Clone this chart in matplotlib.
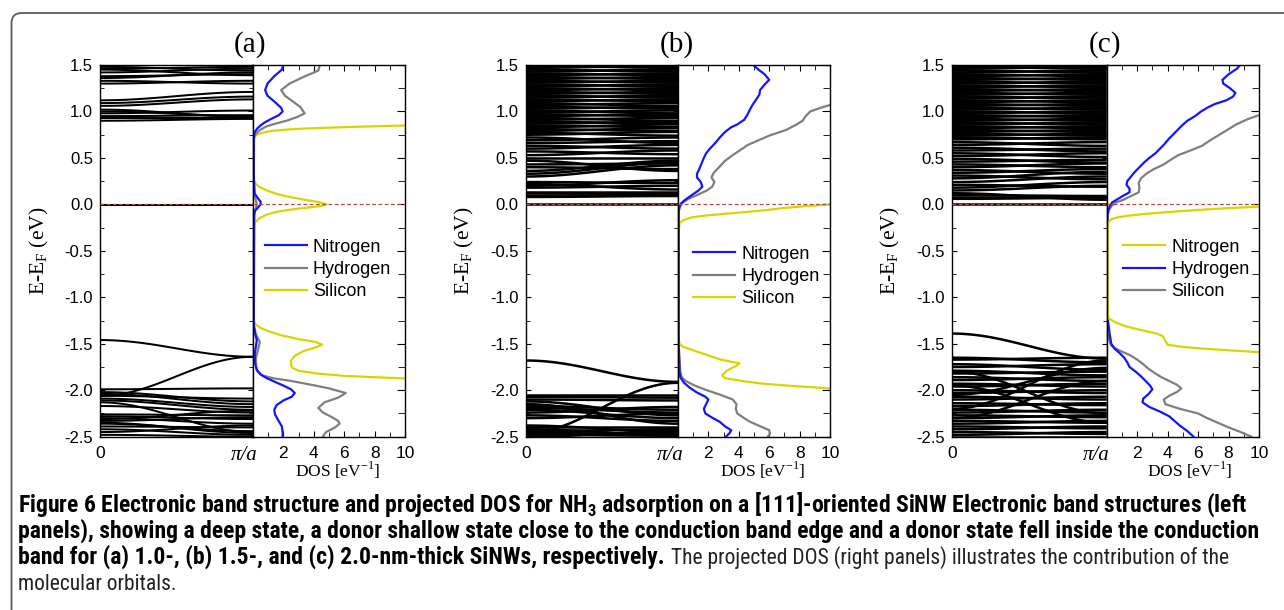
import numpy as np
import matplotlib
matplotlib.use("Agg")
import matplotlib.pyplot as plt
from matplotlib.patches import FancyBboxPatch
from matplotlib.transforms import IdentityTransform
from matplotlib.ticker import MultipleLocator, FixedLocator
from matplotlib.lines import Line2D
from matplotlib import font_manager

# ---------------- data ----------------
# Band structures: energy at Gamma (k=0) and at X (k=pi/a)
A_BAND_G = [-0.005, 1.48, 1.46, 1.42, 1.38, 1.33, 1.30, 1.45, 1.36, 1.12, 1.09, 1.06, 1.02, 0.98, 0.95, 0.93, 0.90, 1.00,
            -1.46, -2.06, -1.99, -2.02, -2.04, -2.06, -2.09, -2.11, -2.13, -2.17, -2.26, -2.28, -2.30, -2.33, -2.36,
            -2.39, -2.42, -2.45, -2.48, -2.31, -2.35]
A_BAND_X = [-0.005, 1.44, 1.48, 1.46, 1.40, 1.30, 1.33, 1.39, 1.42, 1.21, 1.16, 1.13, 0.94, 1.01, 0.96, 0.93, 0.92, 0.95,
            -1.64, -1.64, -1.98, -2.12, -2.15, -2.09, -2.18, -2.21, -2.45, -2.24, -2.27, -2.31, -2.36, -2.29, -2.44,
            -2.40, -2.48, -2.38, -2.50, -2.22, -2.46]

B_BAND_G = [0.00, 0.08, 0.10, 0.12, 0.13, 0.18, 0.22, 0.24, 0.20, 0.30, 0.33, 0.36, 0.40, 0.43, 0.47, 0.50, 0.53, 0.57,
            0.60, 0.63, 0.66, 0.69, 0.72, 0.75, 0.77, 0.79, 0.81, 0.83, 0.85, 0.87, 0.89, 0.91, 0.93, 0.95, 0.97, 0.99,
            1.01, 1.03, 1.05, 1.07, 1.09, 1.11, 1.13, 1.15, 1.17, 1.19, 1.21, 1.23, 1.25, 1.27, 1.29, 1.31, 1.33, 1.35,
            1.37, 1.39, 1.41, 1.43, 1.45, 1.47, 1.49,
            -1.68, -2.46, -2.05, -2.07, -2.10, -2.12, -2.17, -2.19, -2.21, -2.24, -2.27, -2.38, -2.40, -2.42, -2.44,
            -2.46, -2.48, -2.50, -2.15, -2.30]
B_BAND_X = [0.00, 0.09, 0.10, 0.11, 0.13, 0.20, 0.16, 0.23, 0.26, 0.42, 0.45, 0.47, 0.38, 0.44, 0.36, 0.50, 0.58, 0.54,
            0.64, 0.60, 0.68, 0.72, 0.66, 0.78, 0.74, 0.82, 0.79, 0.86, 0.83, 0.89, 0.87, 0.93, 0.90, 0.97, 0.95, 1.01,
            0.98, 1.05, 1.03, 1.09, 1.06, 1.13, 1.11, 1.17, 1.15, 1.21, 1.19, 1.25, 1.23, 1.29, 1.27, 1.33, 1.31, 1.37,
            1.35, 1.41, 1.39, 1.45, 1.43, 1.49, 1.47,
            -1.91, -1.92, -2.05, -2.08, -2.11, -2.27, -2.21, -2.24, -2.30, -2.18, -2.33, -2.45, -2.40, -2.48, -2.42,
            -2.47, -2.49, -2.44, -2.36, -2.25]

C_BAND_G = [0.00, 0.06, 0.08, 0.10, 0.12, 0.15, 0.18, 0.21, 0.24, 0.28, 0.31, 0.34, 0.37, 0.40, 0.43, 0.46, 0.49, 0.52,
            0.55, 0.58, 0.61, 0.64, 0.67, 0.70, 0.72, 0.74, 0.76, 0.78, 0.80, 0.82, 0.84, 0.86, 0.88, 0.90, 0.92, 0.94,
            0.96, 0.98, 1.00, 1.02, 1.04, 1.06, 1.08, 1.10, 1.12, 1.14, 1.16, 1.18, 1.20, 1.22, 1.24, 1.26, 1.28, 1.30,
            1.32, 1.34, 1.36, 1.38, 1.40, 1.42, 1.44, 1.46, 1.48, 1.50,
            -1.39, -1.65, -1.67, -1.72, -1.75, -1.79, -1.82, -1.86, -1.89, -1.93, -1.96, -2.00, -2.03, -2.07, -2.10,
            -2.14, -2.17, -2.21, -2.24, -2.27, -2.30, -2.33, -2.36, -2.39, -2.42, -2.45, -2.48, -2.50, -2.20, -2.05,
            -1.80, -1.95, -2.30]
C_BAND_X = [0.00, 0.07, 0.08, 0.09, 0.05, 0.20, 0.24, 0.19, 0.30, 0.35, 0.27, 0.38, 0.33, 0.44, 0.40, 0.48, 0.45, 0.55,
            0.51, 0.60, 0.57, 0.67, 0.63, 0.72, 0.70, 0.76, 0.74, 0.80, 0.78, 0.84, 0.82, 0.88, 0.86, 0.92, 0.90, 0.96,
            0.94, 1.00, 0.98, 1.04, 1.02, 1.08, 1.06, 1.12, 1.10, 1.16, 1.14, 1.20, 1.18, 1.24, 1.22, 1.28, 1.26, 1.32,
            1.30, 1.36, 1.34, 1.40, 1.38, 1.44, 1.42, 1.48, 1.46, 1.50,
            -1.66, -1.70, -1.65, -1.78, -1.72, -1.84, -1.80, -1.90, -1.86, -1.96, -1.93, -2.03, -2.00, -2.10, -2.07,
            -2.16, -2.14, -2.24, -2.21, -2.29, -2.27, -2.35, -2.33, -2.41, -2.39, -2.47, -2.45, -2.50, -1.68, -1.76,
            -2.25, -2.35, -1.90]

# Projected DOS (energy, DOS) for each species
A_N_E = [1.50, 1.45, 1.38, 1.30, 1.23, 1.17, 1.10, 1.04, 1.00, 0.96, 0.92, 0.88, 0.85, 0.82, 0.78, 0.74, 0.70, 0.30,
         0.12, 0.07, 0.03, 0.00, -0.03, -0.07, -0.12, -0.20, -1.30, -1.40, -1.46, -1.52, -1.60, -1.70, -1.78, -1.83,
         -1.87, -1.91, -1.95, -1.99, -2.03, -2.07, -2.11, -2.16, -2.21, -2.26, -2.32, -2.39, -2.45, -2.50]
A_N_D = [2.00, 1.90, 1.40, 0.95, 0.80, 0.95, 1.45, 1.85, 1.95, 1.70, 1.20, 0.75, 0.50, 0.30, 0.12, 0.06, 0.05, 0.05,
         0.10, 0.30, 0.50, 0.50, 0.35, 0.12, 0.06, 0.05, 0.05, 0.15, 0.25, 0.20, 0.12, 0.12, 0.25, 0.50,
         0.90, 1.45, 2.00, 2.50, 2.75, 2.55, 2.00, 1.55, 1.40, 1.45, 1.65, 1.90, 1.95, 1.95]
A_H_E = [1.50, 1.44, 1.37, 1.30, 1.23, 1.17, 1.11, 1.05, 0.98, 0.94, 0.90, 0.87, 0.84, 0.80, 0.76, 0.72, 0.68, 0.30,
         0.10, 0.00, -0.10, -1.30, -1.40, -1.48, -1.55, -1.65, -1.75, -1.80, -1.84, -1.87, -1.90, -1.94, -1.98, -2.03,
         -2.08, -2.13, -2.19, -2.24, -2.29, -2.33, -2.36, -2.40, -2.45, -2.50]
A_H_D = [4.40, 4.30, 3.30, 2.40, 1.85, 2.10, 2.60, 3.10, 3.40, 2.90, 2.20, 1.50, 0.90, 0.45, 0.18, 0.08, 0.05, 0.05,
         0.10, 0.25, 0.10, 0.05, 0.20, 0.45, 0.35, 0.20, 0.20, 0.30, 0.60, 1.30, 2.50, 3.80, 5.00, 6.10,
         5.60, 4.70, 4.30, 4.60, 5.20, 5.60, 5.70, 5.40, 4.80, 4.60]
A_S_E = [0.870, 0.855, 0.845, 0.835, 0.825, 0.815, 0.805, 0.79, 0.77, 0.75, 0.72, 0.50, 0.28, 0.23, 0.19, 0.15, 0.11,
         0.08, 0.05, 0.025, 0.00, -0.02, -0.04, -0.06, -0.08, -0.11, -0.15, -0.20, -0.25, -1.25, -1.29, -1.33, -1.37,
         -1.41, -1.45, -1.48, -1.51, -1.54, -1.58, -1.63, -1.68, -1.73, -1.76, -1.79, -1.82, -1.845, -1.86, -1.875, -1.89]
A_S_D = [13.0, 11.5, 9.0, 6.8, 4.8, 3.3, 2.2, 1.2, 0.6, 0.25, 0.08, 0.06, 0.06, 0.12, 0.40, 0.90, 1.60,
         2.40, 3.40, 4.30, 4.85, 4.40, 3.30, 2.30, 1.55, 0.90, 0.40, 0.10, 0.06, 0.06, 0.15, 0.50, 1.10,
         1.90, 3.00, 4.10, 4.55, 4.10, 3.30, 2.75, 2.50, 2.50, 2.60, 3.00, 4.20, 6.00, 8.00, 10.3, 13.0]

B_N_E = [1.50, 1.45, 1.40, 1.34, 1.29, 1.23, 1.18, 1.13, 1.07, 1.01, 0.96, 0.91, 0.86, 0.83, 0.78, 0.72, 0.66, 0.60,
         0.55, 0.50, 0.44, 0.38, 0.33, 0.29, 0.24, 0.19, 0.15, 0.11, 0.07, 0.04, 0.01, -0.03, -0.10, -1.50, -1.80,
         -1.86, -1.92, -1.97, -2.02, -2.07, -2.10, -2.15, -2.20, -2.25, -2.30, -2.34, -2.39, -2.43, -2.46, -2.50]
B_N_D = [4.95, 5.30, 5.70, 6.00, 5.70, 5.40, 5.35, 5.15, 4.90, 4.70, 4.55, 4.35, 3.90, 3.50, 3.10, 2.75, 2.45, 2.10,
         1.85, 1.70, 1.55, 1.40, 1.25, 1.25, 1.50, 1.60, 1.35, 1.00, 0.65, 0.40, 0.20, 0.08, 0.04, 0.04, 0.10,
         0.15, 0.40, 0.75, 1.20, 1.80, 2.00, 1.85, 1.70, 1.80, 2.30, 2.75, 3.10, 3.50, 3.40, 3.15]
B_H_E = [1.10, 1.07, 1.04, 1.00, 0.95, 0.90, 0.86, 0.80, 0.74, 0.69, 0.64, 0.585, 0.53, 0.47, 0.40, 0.34, 0.29, 0.24,
         0.19, 0.15, 0.10, 0.06, 0.03, 0.00, -0.05, -0.10, -1.50, -1.80, -1.86, -1.90, -1.95, -2.00, -2.05, -2.10,
         -2.15, -2.20, -2.25, -2.30, -2.34, -2.38, -2.43, -2.47, -2.50]
B_H_D = [10.6, 10.0, 9.4, 8.7, 8.4, 8.2, 7.8, 7.1, 6.0, 5.3, 4.6, 4.1, 3.6, 3.1, 2.7, 2.35, 2.2, 2.4,
         2.25, 1.9, 1.25, 0.7, 0.4, 0.2, 0.08, 0.04, 0.04, 0.15, 0.25, 0.5, 1.1, 1.9, 2.8, 3.6,
         3.85, 3.8, 3.9, 4.35, 4.75, 5.3, 6.0, 6.05, 5.9]
B_S_E = [0.03, 0.00, -0.02, -0.04, -0.06, -0.08, -0.10, -0.12, -0.14, -0.17, -0.20, -0.30, -1.45, -1.50, -1.53,
         -1.57, -1.62, -1.67, -1.71, -1.74, -1.79, -1.84, -1.87, -1.90, -1.93, -1.95, -1.97, -1.985, -2.00]
B_S_D = [12.0, 10.0, 8.3, 6.9, 5.9, 4.6, 3.2, 1.8, 0.9, 0.35, 0.10, 0.05, 0.05, 0.10, 0.30,
         1.00, 1.90, 2.80, 4.05, 3.80, 3.20, 2.90, 3.10, 4.20, 5.60, 7.20, 9.00, 10.3, 12.0]

C_N_E = [0.00, -0.025, -0.04, -0.06, -0.08, -0.10, -0.12, -0.14, -0.16, -0.19, -0.25, -1.18, -1.23, -1.27, -1.31,
         -1.35, -1.39, -1.42, -1.47, -1.51, -1.53, -1.55, -1.57, -1.59, -1.61]
C_N_D = [13.5, 10.0, 8.0, 6.0, 4.2, 2.7, 1.5, 0.7, 0.3, 0.12, 0.07, 0.07, 0.15, 0.6, 1.2,
         2.2, 3.3, 3.7, 3.85, 4.0, 4.8, 6.1, 8.0, 10.0, 12.0]
C_H_E = [1.50, 1.46, 1.40, 1.34, 1.30, 1.25, 1.20, 1.16, 1.12, 1.08, 1.04, 1.00, 0.95, 0.90, 0.85, 0.80, 0.75, 0.70,
         0.65, 0.60, 0.55, 0.50, 0.45, 0.40, 0.35, 0.30, 0.25, 0.21, 0.17, 0.13, 0.09, 0.05, 0.02, -0.02, -0.06, -0.12,
         -1.20, -1.30, -1.40, -1.50, -1.55, -1.60, -1.65, -1.70, -1.75, -1.80, -1.85, -1.90, -1.95, -1.99, -2.04,
         -2.09, -2.13, -2.18, -2.23, -2.28, -2.33, -2.38, -2.44, -2.50]
C_H_D = [8.75, 8.55, 8.00, 7.60, 7.65, 8.10, 8.45, 8.30, 7.85, 7.10, 6.60, 6.20, 5.80, 5.30, 4.95, 4.65, 4.35, 4.05,
         3.80, 3.50, 3.20, 2.80, 2.45, 2.15, 1.85, 1.60, 1.35, 1.30, 1.50, 1.50, 1.05, 0.65, 0.35, 0.20, 0.10, 0.05,
         0.05, 0.12, 0.20, 0.30, 0.50, 0.85, 1.15, 1.35, 1.50, 1.90, 2.25, 2.55, 2.85, 3.00, 2.75,
         2.40, 2.35, 2.80, 3.50, 4.10, 4.45, 4.80, 5.30, 5.70]
C_S_E = [1.00, 0.96, 0.92, 0.86, 0.80, 0.74, 0.68, 0.63, 0.58, 0.53, 0.48, 0.43, 0.38, 0.33, 0.28, 0.23, 0.18, 0.13,
         0.09, 0.05, 0.02, -0.02, -0.06, -0.12, -1.30, -1.45, -1.52, -1.57, -1.62, -1.67, -1.72, -1.77, -1.82, -1.86,
         -1.90, -1.94, -1.98, -2.02, -2.06, -2.10, -2.15, -2.20, -2.25, -2.30, -2.35, -2.40, -2.45, -2.50]
C_S_D = [10.6, 10.0, 9.3, 8.5, 7.9, 7.3, 6.7, 6.25, 5.5, 4.7, 4.2, 3.75, 3.1, 2.6, 2.25, 2.1, 2.15, 2.1,
         1.6, 1.1, 0.6, 0.3, 0.15, 0.05, 0.05, 0.15, 0.30, 0.80, 1.50, 2.00, 2.40, 2.75, 3.20, 3.60,
         4.10, 4.60, 4.90, 4.60, 4.10, 3.75, 3.85, 4.80, 6.00, 6.60, 7.30, 8.00, 8.80, 9.50]

PANEL_TAGS = ["(a)", "(b)", "(c)"]
Y_TICKS = [-2.5, -2.0, -1.5, -1.0, -0.5, 0.0, 0.5, 1.0, 1.5]
DOS_TICKS = [0, 2, 4, 6, 8, 10]
DOS_TICK_LABELS = ["", "2", "4", "6", "8", "10"]
CAPTION_1 = "Figure 6 Electronic band structure and projected DOS for NH$_\\mathbf{3}$ adsorption on a [111]-oriented SiNW Electronic band structures (left"
CAPTION_2 = "panels), showing a deep state, a donor shallow state close to the conduction band edge and a donor state fell inside the conduction"
CAPTION_3B = "band for (a) 1.0-, (b) 1.5-, and (c) 2.0-nm-thick SiNWs, respectively."
CAPTION_3R = "The projected DOS (right panels) illustrates the contribution of the"
CAPTION_4 = "molecular orbitals."

# ---------------- style ----------------
BLUE = "#1414ff"
GREY = "#7f7f7f"
YELLOW = "#d6d600"
RED = "#b04848"

plt.rcParams["font.family"] = ["Liberation Sans", "DejaVu Sans"]
plt.rcParams["axes.unicode_minus"] = False


def have(name):
    try:
        font_manager.findfont(font_manager.FontProperties(family=name), fallback_to_default=False)
        return True
    except Exception:
        return False


CAP_FONT = next((f for f in ["Liberation Sans Narrow", "Roboto Condensed", "Open Sans Condensed", "Lato"] if have(f)),
                "DejaVu Sans")
plt.rcParams["mathtext.fontset"] = "custom"
plt.rcParams["mathtext.bf"] = CAP_FONT + ":bold"
plt.rcParams["mathtext.rm"] = "Liberation Serif"

W, H = 1284, 610
fig = plt.figure(figsize=(W / 100, H / 100), dpi=100)


def rect(l, r, t=65.0, b=436.7):
    return [l / W, 1 - b / H, (r - l) / W, (b - t) / H]


layout = [
    dict(band=(100, 253), dos=(253, 405), title_x=250, xlabel_x=338, pi_off=-9, band_lw=1.45,
         bg=A_BAND_G, bx=A_BAND_X,
         curves=[(A_S_E, A_S_D, YELLOW), (A_H_E, A_H_D, GREY), (A_N_E, A_N_D, BLUE)],
         legend=[("Nitrogen", BLUE), ("Hydrogen", GREY), ("Silicon", YELLOW)], leg=(0.079, 0.533)),
    dict(band=(525.7, 678), dos=(678, 830), title_x=677, xlabel_x=763, pi_off=-8, band_lw=1.8,
         bg=B_BAND_G, bx=B_BAND_X,
         curves=[(B_S_E, B_S_D, YELLOW), (B_H_E, B_H_D, GREY), (B_N_E, B_N_D, BLUE)],
         legend=[("Nitrogen", BLUE), ("Hydrogen", GREY), ("Silicon", YELLOW)], leg=(0.100, 0.514)),
    dict(band=(951.7, 1106.7), dos=(1106.7, 1259), title_x=1105, xlabel_x=1190, pi_off=-10, band_lw=1.8,
         bg=C_BAND_G, bx=C_BAND_X,
         curves=[(C_S_E, C_S_D, GREY), (C_H_E, C_H_D, BLUE), (C_N_E, C_N_D, YELLOW)],
         legend=[("Nitrogen", YELLOW), ("Hydrogen", BLUE), ("Silicon", GREY)], leg=(0.109, 0.533)),
]

kk = np.linspace(0.0, 1.0, 80)
shape = (1 - np.cos(np.pi * kk)) / 2.0

for tag, P in zip(PANEL_TAGS, layout):
    axb = fig.add_axes(rect(*P["band"]))
    axd = fig.add_axes(rect(*P["dos"]))
    for ax in (axb, axd):
        ax.set_ylim(-2.5, 1.5)
        ax.yaxis.set_major_locator(FixedLocator(Y_TICKS))
        ax.yaxis.set_minor_locator(MultipleLocator(0.25))
        for s in ax.spines.values():
            s.set_linewidth(1.0)
    # band structure
    axb.set_xlim(0, 1)
    for g, x in zip(P["bg"], P["bx"]):
        axb.plot(kk, g + (x - g) * shape, color="black", lw=P["band_lw"], solid_capstyle="butt")
    axb.axhline(0.0, color=RED, lw=0.9, ls=(0, (3, 2)), zorder=5)
    axb.set_yticklabels(["%.1f" % v for v in Y_TICKS])
    axb.tick_params(axis="y", which="both", direction="in", left=True, right=True, labelsize=12, pad=5)
    axb.tick_params(axis="y", which="major", length=3.5)
    axb.tick_params(axis="y", which="minor", length=3.0)
    axb.set_xticks([0])
    axb.set_xticklabels(["0"])
    axb.tick_params(axis="x", which="both", length=0, labelsize=12.5, pad=7)
    axb.annotate("π/a", xy=(1, 0), xycoords="axes fraction", xytext=(P["pi_off"], -9),
                 textcoords="offset pixels", ha="center", va="top",
                 family="Liberation Serif", style="italic", fontsize=15)
    axb.set_ylabel("E-E$_{\\mathregular{F}}$ (eV)", family="Liberation Serif", fontsize=15.5, labelpad=10)

    # DOS
    axd.set_xlim(0, 10)
    for E, D, c in P["curves"]:
        axd.plot(D, E, color=c, lw=1.6)
    axd.axhline(0.0, color=RED, lw=0.9, ls=(0, (3, 2)), zorder=5)
    axd.set_xticks(DOS_TICKS)
    axd.set_xticklabels(DOS_TICK_LABELS)
    axd.xaxis.set_minor_locator(MultipleLocator(1))
    axd.tick_params(axis="x", which="both", direction="in", top=True, bottom=True, labelsize=12.5, pad=7)
    axd.tick_params(axis="x", which="major", length=4.5)
    axd.tick_params(axis="x", which="minor", length=3.5)
    axd.tick_params(axis="y", which="both", direction="in", left=False, right=True, labelleft=False)
    axd.tick_params(axis="y", which="major", length=6)
    axd.tick_params(axis="y", which="minor", length=5)
    handles = [Line2D([], [], color=c, lw=1.6) for _, c in P["legend"]]
    axd.legend(handles, [n for n, _ in P["legend"]], loc="upper left", bbox_to_anchor=P["leg"],
               frameon=False, fontsize=13, handlelength=2.3, handletextpad=0.35, labelspacing=0.3,
               borderpad=0, borderaxespad=0)

    fig.text(P["title_x"] / W, 1 - 45 / H, tag, ha="center", va="center", family="Liberation Serif", fontsize=21)
    fig.text(P["xlabel_x"] / W, 1 - 470 / H, "DOS [eV$^{\\mathregular{-1}}$]", ha="center", va="center",
             family="Liberation Serif", fontsize=12.5)

# frame
frame = FancyBboxPatch((11.5, -30), 1320, H - 13 + 30, boxstyle="round,pad=0,rounding_size=10",
                       transform=IdentityTransform(), fill=False, edgecolor="#5a5a5a", lw=1.3, clip_on=False)
fig.add_artist(frame)

# caption
X0 = 18 / W
base = [512, 538, 564, 590]
t1 = fig.text(X0, 1 - base[0] / H, CAPTION_1, fontweight="bold", family=CAP_FONT, fontsize=12, va="baseline")
t2 = fig.text(X0, 1 - base[1] / H, CAPTION_2, fontweight="bold", family=CAP_FONT, fontsize=12, va="baseline")
t3 = fig.text(X0, 1 - base[2] / H, CAPTION_3B, fontweight="bold", family=CAP_FONT, fontsize=12, va="baseline")
t3r = fig.text(X0, 1 - base[2] / H, CAPTION_3R, family=CAP_FONT, fontsize=12, va="baseline", color="#222222")
t4 = fig.text(X0, 1 - base[3] / H, CAPTION_4, family=CAP_FONT, fontsize=12, va="baseline", color="#222222")

fig.canvas.draw()
r = fig.canvas.get_renderer()
w1 = t1.get_window_extent(r).width
w2 = t2.get_window_extent(r).width
fs = 12 * min(1244.0 / w1, 1243.0 / w2)
for t in (t1, t2, t3):
    t.set_fontsize(fs)
fig.canvas.draw()
bb = t3.get_window_extent(r)
x_r = bb.x1 + fs * 0.35
wr = t3r.get_window_extent(r).width
fs_r = 12 * (1230.0 - x_r) / wr
t3r.set_fontsize(fs_r)
t4.set_fontsize(fs_r)
t3r.set_x(x_r / W)

fig.savefig("out.png", dpi=100)
